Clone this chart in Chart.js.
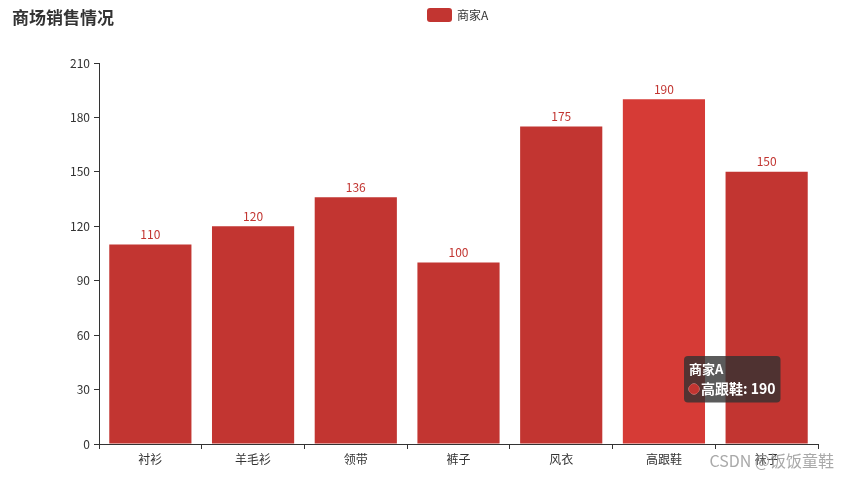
<!DOCTYPE html>
<html lang="zh">
<head>
<meta charset="UTF-8">
<title>商场销售情况</title>
<style>
    body { margin: 0; background: #fff; }
    #wrap { width: 849px; height: 480px; }
</style>
<script src="https://cdn.jsdelivr.net/npm/chart.js"></script>
</head>
<body>
<div id="wrap"><canvas id="chart1"></canvas></div>
<script>
    // chart data
    const categories = ['衬衫', '羊毛衫', '领带', '裤子', '风衣', '高跟鞋', '袜子'];
    const salesA = [110, 120, 136, 100, 175, 190, 150];
    const seriesName = '商家A';
    const yTicks = [0, 30, 60, 90, 120, 150, 180, 210];

    const FONT = '"Microsoft YaHei", "Noto Sans CJK SC", sans-serif';

    // title, legend, value labels and watermark
    const extras = {
        id: 'extras',
        afterDatasetsDraw(chart) {
            const ctx = chart.ctx;
            ctx.save();
            ctx.fillStyle = '#333';
            ctx.font = 'bold 17px ' + FONT;
            ctx.textBaseline = 'middle';
            ctx.fillText('商场销售情况', 12, 18);

            // legend
            ctx.fillStyle = '#c23531';
            ctx.beginPath();
            ctx.roundRect(427, 8, 25, 14, 3);
            ctx.fill();
            ctx.fillStyle = '#333';
            ctx.font = '12px ' + FONT;
            ctx.fillText(seriesName, 457, 15);

            // values above bars
            const meta = chart.getDatasetMeta(0);
            ctx.fillStyle = '#c23531';
            ctx.textAlign = 'center';
            ctx.textBaseline = 'bottom';
            meta.data.forEach((bar, i) => {
                ctx.fillText(salesA[i], bar.x, bar.y - 4);
            });

            // watermark
            ctx.textAlign = 'right';
            ctx.textBaseline = 'middle';
            ctx.font = '16px ' + FONT;
            ctx.fillStyle = 'rgba(160,160,160,0.9)';
            ctx.fillText('CSDN @饭饭童鞋', 834, 461);
            ctx.restore();
        }
    };

    Chart.Tooltip.positioners.fixed = function() {
        return { x: 688, y: 354 };
    };

    const chart = new Chart(document.getElementById('chart1'), {
        type: 'bar',
        data: {
            labels: categories,
            datasets: [{
                label: seriesName,
                data: salesA,
                backgroundColor: '#c23531',
                hoverBackgroundColor: '#d63b36',
                barPercentage: 0.8,
                categoryPercentage: 1.0
            }]
        },
        options: {
            responsive: true,
            maintainAspectRatio: false,
            animation: false,
            events: [],
            layout: { padding: { top: 63, right: 31, left: 0, bottom: 0 } },
            plugins: {
                legend: { display: false },
                tooltip: {
                    position: 'fixed',
                    xAlign: 'left',
                    yAlign: 'top',
                    caretSize: 0,
                    backgroundColor: 'rgba(50,50,50,0.8)',
                    cornerRadius: 4,
                    padding: 5,
                    titleFont: { family: FONT, size: 13, weight: 'bold' },
                    bodyFont: { family: FONT, size: 14, weight: 'bold' },
                    titleMarginBottom: 4,
                    usePointStyle: true,
                    boxWidth: 10,
                    boxHeight: 10,
                    callbacks: {
                        title: () => seriesName,
                        label: item => item.label + ': ' + item.raw,
                        labelColor: () => ({ borderColor: '#c23531', backgroundColor: '#c23531' }),
                        labelPointStyle: () => ({ pointStyle: 'circle', rotation: 0 })
                    }
                }
            },
            scales: {
                x: {
                    offset: true,
                    grid: { display: true, drawOnChartArea: false, offset: true, tickLength: 5, color: '#333' },
                    border: { color: '#333' },
                    ticks: { color: '#333', font: { family: FONT, size: 12 }, padding: 3 },
                    afterFit: s => { s.height = 36; }
                },
                y: {
                    min: 0,
                    max: 210,
                    afterBuildTicks: s => { s.ticks = yTicks.map(v => ({ value: v })); },
                    grid: { display: true, drawOnChartArea: false, tickLength: 5, color: '#333' },
                    border: { color: '#333' },
                    ticks: { color: '#333', font: { family: FONT, size: 12 }, padding: 4 },
                    afterFit: s => { s.width = 99; }
                }
            }
        },
        plugins: [extras]
    });

    chart.setActiveElements([{ datasetIndex: 0, index: 5 }]);
    chart.tooltip.setActiveElements([{ datasetIndex: 0, index: 5 }], { x: 688, y: 354 });
    chart.update();
</script>
</body>
</html>
